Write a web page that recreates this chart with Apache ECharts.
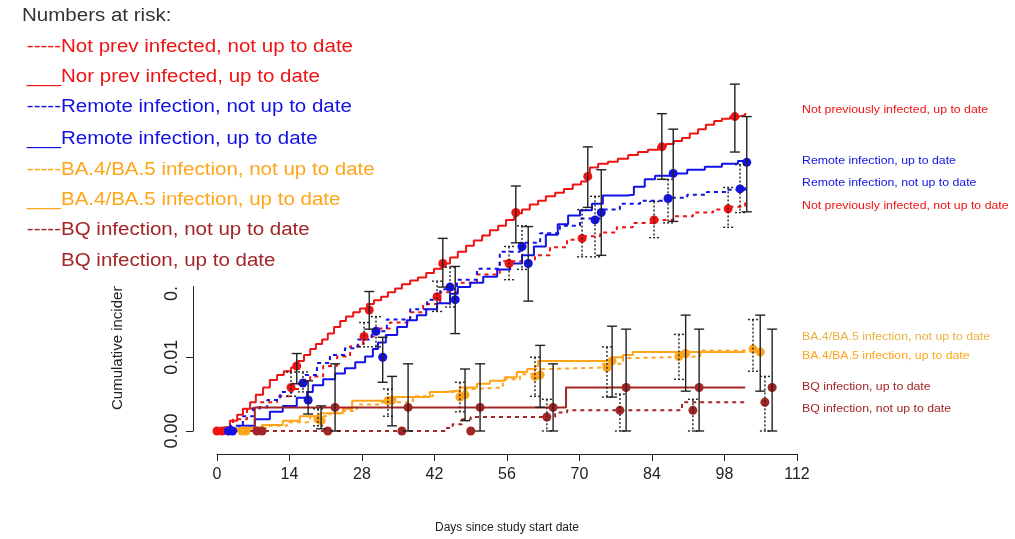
<!DOCTYPE html>
<html>
<head>
<meta charset="utf-8">
<script src="https://cdn.jsdelivr.net/npm/echarts@6/dist/echarts.min.js"></script>
<style>
html,body{margin:0;padding:0;background:#fff;}
#chart{width:1015px;height:539px;}
</style>
</head>
<body>
<div id="chart"></div>
<script>
// 累积发病曲线 [天, 累积发病率]
var npNotLine = [[0,0],[1.7,0.0005],[3.1,0.0016],[5.8,0.0030],[8.3,0.0039],[11.6,0.0047],[14.1,0.0057],[16.0,0.0066],[18.0,0.0074],[20.5,0.0088],[23.2,0.0101],[25.7,0.0115],[28.2,0.0128],[30.5,0.0139],[33.4,0.0147],[37.3,0.0161],[39.8,0.0172],[43.1,0.0188],[46.3,0.0201],[50.2,0.0212],[54.6,0.0230],[58.5,0.0231],[61.4,0.0238],[64.3,0.0249],[67.6,0.0259],[70.7,0.0264],[74.0,0.0269],[77.2,0.0276],[80.3,0.0282],[84.2,0.0286],[88.1,0.0291],[91.9,0.0296],[95.8,0.0300],[99.1,0.0304],[102.0,0.0311]];
var npUtdLine = [[0,0],[1.4,0.0005],[2.5,0.0014],[3.9,0.0022],[5.0,0.0030],[6.4,0.0039],[7.5,0.0049],[8.9,0.0059],[10.2,0.0069],[11.6,0.0076],[12.9,0.0081],[14.3,0.0086],[15.6,0.0095],[16.8,0.0103],[18.0,0.0111],[19.1,0.0118],[20.3,0.0124],[21.4,0.0132],[22.6,0.0141],[23.8,0.0149],[24.9,0.0155],[26.3,0.0161],[27.6,0.0166],[29.0,0.0172],[30.3,0.0177],[31.7,0.0182],[33.0,0.0188],[34.4,0.0193],[35.7,0.0199],[37.3,0.0204],[38.8,0.0208],[40.4,0.0214],[41.9,0.0220],[43.4,0.0227],[45.0,0.0235],[46.5,0.0243],[48.1,0.0251],[49.6,0.0258],[51.2,0.0265],[52.7,0.0272],[54.3,0.0278],[55.8,0.0286],[57.4,0.0295],[58.9,0.0300],[60.4,0.0307],[62.0,0.0312],[63.5,0.0318],[65.3,0.0323],[67.0,0.0328],[68.7,0.0334],[70.3,0.0338],[71.4,0.0345],[72.0,0.0357],[73.6,0.0362],[75.5,0.0365],[77.4,0.0369],[79.4,0.0374],[81.3,0.0378],[83.2,0.0381],[85.2,0.0385],[86.7,0.0389],[88.2,0.0393],[89.8,0.0397],[91.3,0.0403],[92.9,0.0409],[94.4,0.0415],[96.0,0.0420],[97.5,0.0423],[99.1,0.0426],[100.6,0.0428],[102.0,0.0431]];
var remNotLine = [[0,0],[2.5,0.0007],[5.0,0.0020],[7.0,0.0032],[9.7,0.0042],[12.2,0.0053],[14.5,0.0064],[17.0,0.0076],[19.3,0.0092],[21.8,0.0103],[24.7,0.0112],[27.2,0.0124],[29.9,0.0135],[32.8,0.0151],[37.3,0.0165],[40.6,0.0178],[43.1,0.0192],[46.3,0.0205],[50.2,0.0220],[54.6,0.0243],[58.5,0.0255],[62.4,0.0268],[66.2,0.0278],[70.1,0.0288],[74.0,0.0300],[77.8,0.0308],[81.7,0.0312],[86.9,0.0316],[90.8,0.0320],[94.6,0.0324],[98.5,0.0327],[102.0,0.0334]];
var remUtdLine = [[0,0],[2.1,0.0003],[4.4,0.0007],[7.3,0.0016],[10.2,0.0026],[12.7,0.0034],[15.4,0.0045],[17.4,0.0053],[18.5,0.0062],[20.5,0.0070],[22.8,0.0078],[24.7,0.0085],[26.7,0.0093],[28.6,0.0101],[30.1,0.0111],[31.1,0.0120],[32.6,0.0130],[34.8,0.0141],[36.7,0.0150],[38.6,0.0157],[40.4,0.0165],[42.5,0.0173],[45.0,0.0186],[46.5,0.0195],[48.9,0.0201],[51.4,0.0209],[54.1,0.0219],[56.6,0.0227],[58.9,0.0238],[61.2,0.0250],[63.5,0.0266],[65.8,0.0280],[67.8,0.0292],[70.1,0.0299],[72.4,0.0308],[74.5,0.0319],[79.2,0.0320],[80.5,0.0331],[82.6,0.0341],[84.6,0.0346],[87.5,0.0349],[90.8,0.0354],[94.2,0.0358],[97.5,0.0362],[100.6,0.0366],[102.3,0.0368]];
var baNotLine = [[0,0],[2.5,0.0001],[7.3,0.0004],[10.2,0.0007],[13.5,0.0012],[18.0,0.0020],[21.8,0.0024],[24.3,0.0027],[27.0,0.0036],[31.5,0.0039],[37.8,0.0047],[41.7,0.0053],[46.9,0.0057],[50.2,0.0059],[55.2,0.0070],[58.5,0.0077],[61.4,0.0084],[64.3,0.0086],[74.5,0.0091],[78.4,0.0099],[81.7,0.0101],[93.3,0.0109],[102.0,0.0111]];
var baUtdLine = [[0,0],[1.0,0.0003],[4.4,0.0005],[8.7,0.0008],[12.7,0.0014],[16.0,0.0020],[19.9,0.0024],[24.3,0.0030],[26.1,0.0041],[33.4,0.0046],[41.1,0.0053],[44.0,0.0055],[46.9,0.0059],[50.2,0.0064],[52.7,0.0068],[55.6,0.0073],[57.9,0.0080],[59.9,0.0084],[61.4,0.0088],[62.0,0.0095],[75.3,0.0096],[76.5,0.0100],[78.4,0.0103],[80.3,0.0107],[102.0,0.0107]];
var bqNotLine = [[0,0],[44.0,0.0004],[45.5,0.0009],[47.3,0.0016],[49.0,0.0019],[65.3,0.0025],[67.6,0.0028],[89.8,0.0039],[102.0,0.0039]];
var bqUtdLine = [[0,0],[7.3,0.0032],[67.4,0.0059],[102.0,0.0059]];

// 各时间点的估计值与置信区间（横向错开）
var npNotDays = [0,14.3,28.4,42.5,56.4,70.5,84.4,98.7];
var npNotVals = [0,0.0059,0.0128,0.0182,0.0227,0.0261,0.0286,0.0301];
var npNotLo   = [0,0.0047,0.0114,0.0162,0.0205,0.0236,0.0262,0.0276];
var npNotHi   = [0,0.0080,0.0147,0.0203,0.0250,0.0300,0.0311,0.0330];

var npUtdDays = [1.0,15.4,29.4,43.6,57.7,71.6,85.9,100.0];
var npUtdVals = [0,0.0088,0.0164,0.0227,0.0296,0.0345,0.0385,0.0426];
var npUtdLo   = [0,0.0064,0.0138,0.0195,0.0255,0.0303,0.0341,0.0378];
var npUtdHi   = [0,0.0105,0.0189,0.0261,0.0332,0.0385,0.0430,0.0470];

var remNotDays = [2.2,16.6,30.7,45.0,58.9,73.0,87.1,101.0];
var remNotVals = [0,0.0065,0.0135,0.0195,0.0250,0.0286,0.0315,0.0328];
var remNotLo   = [0,0.0053,0.0114,0.0168,0.0219,0.0236,0.0282,0.0296];
var remNotHi   = [0,0.0080,0.0155,0.0222,0.0278,0.0318,0.0341,0.0361];

var remUtdDays = [3.0,17.6,32.0,46.0,60.1,74.2,88.1,102.3];
var remUtdVals = [0,0.0042,0.0100,0.0178,0.0227,0.0296,0.0349,0.0364];
var remUtdLo   = [0,0.0023,0.0066,0.0132,0.0176,0.0238,0.0284,0.0297];
var remUtdHi   = [0,0.0068,0.0127,0.0223,0.0277,0.0354,0.0409,0.0426];

var baNotDays = [4.8,19.5,33.0,46.9,61.4,75.3,89.2,103.5];
var baNotVals = [0,0.0016,0.0041,0.0046,0.0074,0.0086,0.0101,0.0111];
var baNotLo   = [0,0.0007,0.0020,0.0026,0.0047,0.0046,0.0070,0.0081];
var baNotHi   = [0,0.0030,0.0057,0.0066,0.0100,0.0114,0.0131,0.0151];

var baUtdDays = [5.6,20.1,33.8,47.9,62.4,76.3,90.5,104.9];
var baUtdVals = [0,0.0014,0.0042,0.0049,0.0076,0.0095,0.0105,0.0107];
var baUtdLo   = [0,0.0003,0.0007,0.0014,0.0032,0.0046,0.0054,0.0054];
var baUtdHi   = [0,0.0034,0.0074,0.0084,0.0116,0.0142,0.0157,0.0157];

var bqNotDays = [7.7,21.4,35.7,49.0,63.7,77.8,91.9,105.8];
var bqNotVals = [0,0,0,0,0.0019,0.0028,0.0028,0.0039];
var bqNotLo   = [0,0,0,0,0,0,0,0];
var bqNotHi   = [0,0,0,0,0.0043,0.0050,0.0043,0.0074];

var bqUtdDays = [8.7,22.8,36.9,50.8,64.9,79.0,93.1,107.2];
var bqUtdVals = [0,0.0032,0.0032,0.0032,0.0032,0.0059,0.0059,0.0059];
var bqUtdLo   = [0,0,0,0,0,0,0,0];
var bqUtdHi   = [0,0.0091,0.0091,0.0091,0.0091,0.0138,0.0138,0.0138];

// 坐标轴刻度
var xTicks = [0,14,28,42,56,70,84,98,112];
var yTicks = [0,0.01,0.02,0.03,0.04,0.05];

// 图例文字
var riskTitle = 'Numbers at risk:';
var legendNames = ['Not prev infected, not up to date','Nor prev infected, up to date','Remote infection, not up to date','Remote infection, up to date','BA.4/BA.5 infection, not up to date','BA.4/BA.5 infection, up to date','BQ infection, not up to date','BQ infection, up to date'];
var rightNames = ['Not previously infected, up to date','Remote infection, up to date','Remote infection, not up to date','Not previously infected, not up to date','BA.4/BA.5 infection, not up to date','BA.4/BA.5 infection, up to date','BQ infection, up to date','BQ infection, not up to date'];

var FONT = '"Liberation Sans", Arial, sans-serif';
var RED = '#ee1414', BLUE = '#1212e6', ORANGE = '#ffa51a', BROWN = '#a32626';

var groups = [
    {line:npNotLine, days:npNotDays, vals:npNotVals, lo:npNotLo, hi:npNotHi, color:RED, dash:true},
    {line:npUtdLine, days:npUtdDays, vals:npUtdVals, lo:npUtdLo, hi:npUtdHi, color:RED, dash:false},
    {line:remNotLine, days:remNotDays, vals:remNotVals, lo:remNotLo, hi:remNotHi, color:BLUE, dash:true},
    {line:remUtdLine, days:remUtdDays, vals:remUtdVals, lo:remUtdLo, hi:remUtdHi, color:BLUE, dash:false},
    {line:baNotLine, days:baNotDays, vals:baNotVals, lo:baNotLo, hi:baNotHi, color:ORANGE, dash:true},
    {line:baUtdLine, days:baUtdDays, vals:baUtdVals, lo:baUtdLo, hi:baUtdHi, color:ORANGE, dash:false},
    {line:bqNotLine, days:bqNotDays, vals:bqNotVals, lo:bqNotLo, hi:bqNotHi, color:BROWN, dash:true},
    {line:bqUtdLine, days:bqUtdDays, vals:bqUtdVals, lo:bqUtdLo, hi:bqUtdHi, color:BROWN, dash:false}
];

// 误差线
function errBar(dash){
    return function(params, api){
        var top = api.coord([api.value(0), api.value(2)]);
        var bot = api.coord([api.value(0), api.value(1)]);
        var st = {stroke:'#222', lineWidth:1.4, lineDash: dash ? [2,2] : null};
        return {type:'group', children:[
            {type:'line', shape:{x1:top[0], y1:top[1], x2:bot[0], y2:bot[1]}, style:st},
            {type:'line', shape:{x1:top[0]-5, y1:top[1], x2:top[0]+5, y2:top[1]}, style:st},
            {type:'line', shape:{x1:bot[0]-5, y1:bot[1], x2:bot[0]+5, y2:bot[1]}, style:st}
        ]};
    };
}

var series = [];
groups.forEach(function(g){
    series.push({
        type:'line', step:'end', data:g.line, showSymbol:false, z:2,
        lineStyle:{color:g.color, width:2, type: g.dash ? [4,4] : 'solid'}
    });
});
groups.forEach(function(g){
    var pts = g.days.map(function(d,i){ return [d, g.vals[i]]; });
    series.push({
        type:'scatter', data:pts, symbolSize:9, z:3,
        itemStyle:{color:g.color, opacity:1}
    });
    var bars = [];
    g.days.forEach(function(d,i){ if(g.hi[i] > g.lo[i]) bars.push([d, g.lo[i], g.hi[i]]); });
    series.push({type:'custom', data:bars, renderItem:errBar(g.dash), z:4, silent:true});
});

// 左上图例（白底遮盖）
var legColors = [RED,RED,BLUE,BLUE,ORANGE,ORANGE,BROWN,BROWN];
var legY = [47,77,107,139,170,200,230,261];
var graphics = [
    {type:'rect', shape:{x:0,y:0,width:392,height:286}, style:{fill:'#fff'}, z:100},
    {type:'text', x:22, y:16, z:101, scaleX:1.14, style:{text:riskTitle, font:'18px '+FONT, fill:'#333', textVerticalAlign:'middle'}},
    {type:'text', x:118, y:410, rotation:Math.PI/2, z:50, style:{text:'Cumulative incidence', font:'15px '+FONT, fill:'#222', textAlign:'left', textVerticalAlign:'middle'}}
];
legendNames.forEach(function(t,i){
    var solid = i % 2 == 1;
    if(i < 7){
        graphics.push({type:'text', x:61, y:legY[i], z:101, scaleX:1.14, style:{text: solid ? '___' : '-----', font:'18px '+FONT, fill:legColors[i], textAlign:'right', textVerticalAlign:'middle'}});
    }
    graphics.push({type:'text', x:61, y:legY[i], z:101, scaleX:1.14, style:{text:t, font:'18px '+FONT, fill:legColors[i], textVerticalAlign:'middle'}});
});

// 右侧标注
var rightColors = [RED,BLUE,BLUE,RED,'#eab040',ORANGE,BROWN,BROWN];
var rightY = [110,161,183,206,337,356,387,409];
rightNames.forEach(function(t,i){
    graphics.push({type:'text', x:802, y:rightY[i], scaleX:1.07, style:{text:t, font:'11.5px '+FONT, fill:rightColors[i], textVerticalAlign:'middle'}});
});

var chart = echarts.init(document.getElementById('chart'));
chart.setOption({
    backgroundColor:'#fff',
    animation:false,
    grid:{left:217, right:218, top:62, bottom:107},
    xAxis:{
        type:'value', min:xTicks[0], max:xTicks[xTicks.length-1], interval:14, offset:23,
        name:'Days since study start date', nameLocation:'middle', nameGap:68,
        nameTextStyle:{fontSize:12, color:'#222', fontFamily:FONT},
        axisLine:{onZero:false, lineStyle:{color:'#222', width:1}},
        axisTick:{length:7, lineStyle:{color:'#222'}},
        axisLabel:{fontSize:16, color:'#222', margin:13, fontFamily:FONT},
        splitLine:{show:false}
    },
    yAxis:{
        type:'value', min:yTicks[0], max:yTicks[yTicks.length-1], interval:0.01, offset:24,
        axisLine:{show:true, onZero:false, lineStyle:{color:'#222', width:1}},
        axisTick:{show:true, length:7, lineStyle:{color:'#222'}},
        axisLabel:{rotate:90, fontSize:18, color:'#222', margin:12, fontFamily:FONT, formatter:function(v){ return v.toFixed(2); }},
        splitLine:{show:false}
    },
    series:series,
    graphic:graphics
});
</script>
</body>
</html>
